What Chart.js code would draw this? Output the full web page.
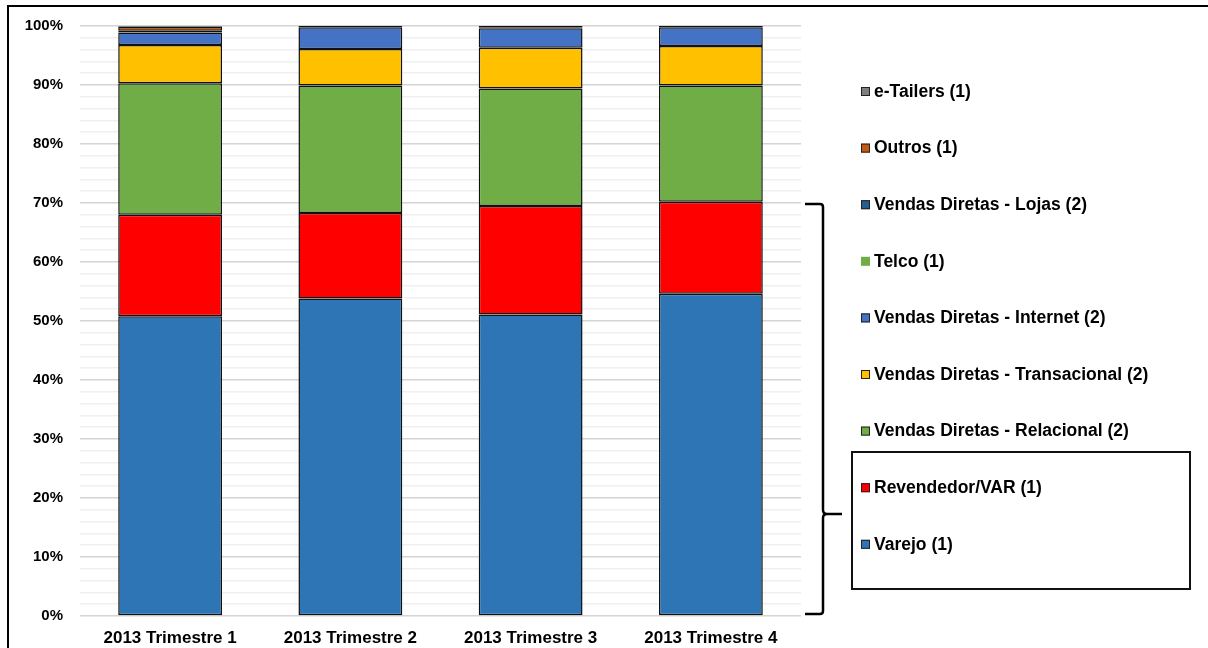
<!DOCTYPE html>
<html>
<head>
<meta charset="utf-8">
<script src="https://cdn.jsdelivr.net/npm/chart.js@4/dist/chart.umd.min.js"></script>
<style>
    body { margin: 0; background: #fff; }
    #wrap { position: relative; width: 1208px; height: 648px; overflow: hidden; }
    #frame { position: absolute; left: 7px; top: 5px; width: 1210px; height: 660px;
             border-left: 2px solid #000; border-top: 2px solid #000; }
    #box { position: absolute; left: 851px; top: 451px; width: 336px; height: 135px;
           border: 2.5px solid #111; }
    canvas { position: absolute; left: 0; top: 0; }
</style>
</head>
<body>
<div id="wrap">
    <canvas id="chart" width="1208" height="648"></canvas>
    <div id="frame"></div>
    <div id="box"></div>
</div>
<script>
const labels = ['2013 Trimestre 1', '2013 Trimestre 2', '2013 Trimestre 3', '2013 Trimestre 4'];

const varejo       = [50.8, 53.8, 51.1, 54.6];
const revendedor   = [17.2, 14.5, 18.4, 15.6];
const relacional   = [22.3, 21.6, 19.9, 19.7];
const transacional = [6.5, 6.2, 6.9, 6.7];
const internet     = [2.1, 3.7, 3.3, 3.2];
const telco        = [0, 0, 0, 0];
const lojas        = [0.3, 0.2, 0.1, 0.2];
const outros       = [0.7, 0, 0, 0];
const etailers     = [0.1, 0, 0.3, 0];

const yTicks = [0, 10, 20, 30, 40, 50, 60, 70, 80, 90, 100];

function ds(label, data, color, border) {
    return {
        label: label,
        data: data,
        backgroundColor: color,
        borderColor: '#111',
        borderWidth: border === undefined ? 1.5 : border,
        borderSkipped: false,
        categoryPercentage: 1,
        barPercentage: 0.576
    };
}

const datasets = [
    ds('Varejo (1)', varejo, '#2E75B6'),
    ds('Revendedor/VAR (1)', revendedor, '#FF0000'),
    ds('Vendas Diretas - Relacional (2)', relacional, '#70AD47'),
    ds('Vendas Diretas - Transacional (2)', transacional, '#FFC000'),
    ds('Vendas Diretas - Internet (2)', internet, '#4472C4'),
    ds('Telco (1)', telco, '#70AD47', 0),
    ds('Vendas Diretas - Lojas (2)', lojas, '#255E91'),
    ds('Outros (1)', outros, '#C55A11'),
    ds('e-Tailers (1)', etailers, '#7F7F7F')
];

// legend drawn on the right side, top to bottom in reverse order
const sideLegend = {
    id: 'sideLegend',
    afterDraw(chart) {
        const ctx = chart.ctx;
        const items = chart.data.datasets.slice().reverse();
        ctx.save();
        ctx.font = 'bold 17.5px "Liberation Sans", Arial, sans-serif';
        ctx.textBaseline = 'middle';
        items.forEach((d, i) => {
            const y = 92 + i * 56.6;
            ctx.fillStyle = d.backgroundColor;
            ctx.fillRect(861, y - 5, 9, 9);
            if (d.borderWidth) {
                ctx.strokeStyle = '#222';
                ctx.lineWidth = 1;
                ctx.strokeRect(861.5, y - 4.5, 8, 8);
            }
            ctx.fillStyle = '#000';
            ctx.fillText(d.label, 874, y);
        });

        // brace from 70% down to 0%
        const ys = chart.scales.y;
        const top = ys.getPixelForValue(70);
        const bot = ys.getPixelForValue(0) - 2;
        const tip = 514;
        const x = 823;
        ctx.strokeStyle = '#000';
        ctx.lineWidth = 2.5;
        ctx.beginPath();
        ctx.moveTo(805, top + 1);
        ctx.lineTo(x - 3, top + 1);
        ctx.quadraticCurveTo(x, top + 1, x, top + 4);
        ctx.lineTo(x, tip - 4);
        ctx.quadraticCurveTo(x, tip, x + 4, tip);
        ctx.lineTo(842, tip);
        ctx.moveTo(x + 4, tip);
        ctx.quadraticCurveTo(x, tip, x, tip + 4);
        ctx.lineTo(x, bot - 3);
        ctx.quadraticCurveTo(x, bot, x - 3, bot);
        ctx.lineTo(805, bot);
        ctx.stroke();
        ctx.restore();
    }
};

new Chart(document.getElementById('chart').getContext('2d'), {
    type: 'bar',
    data: {
        labels: labels,
        datasets: datasets
    },
    options: {
        responsive: false,
        animation: false,
        layout: {
            padding: { left: 0, right: 407, top: 26, bottom: 0 }
        },
        plugins: {
            legend: { display: false },
            tooltip: { enabled: false }
        },
        scales: {
            x: {
                stacked: true,
                grid: { display: false },
                border: { display: false },
                ticks: {
                    color: '#000',
                    padding: 4,
                    font: { family: '"Liberation Sans", Arial, sans-serif', size: 17, weight: 'bold' }
                },
                afterFit: (scale) => { scale.height = 32; }
            },
            y: {
                stacked: true,
                min: 0,
                max: 100,
                grid: {
                    drawTicks: false,
                    color: (c) => (c.tick && c.tick.value % 10 === 0) ? '#d4d4d4' : '#efefef',
                    lineWidth: 1.5
                },
                border: { display: false },
                ticks: {
                    stepSize: 2,
                    autoSkip: false,
                    padding: 17,
                    color: '#000',
                    font: { family: '"Liberation Sans", Arial, sans-serif', size: 15, weight: 'bold' },
                    callback: (v) => yTicks.includes(v) ? v + '%' : ''
                },
                afterFit: (scale) => { scale.width = 80; }
            }
        }
    },
    plugins: [sideLegend]
});
</script>
</body>
</html>
